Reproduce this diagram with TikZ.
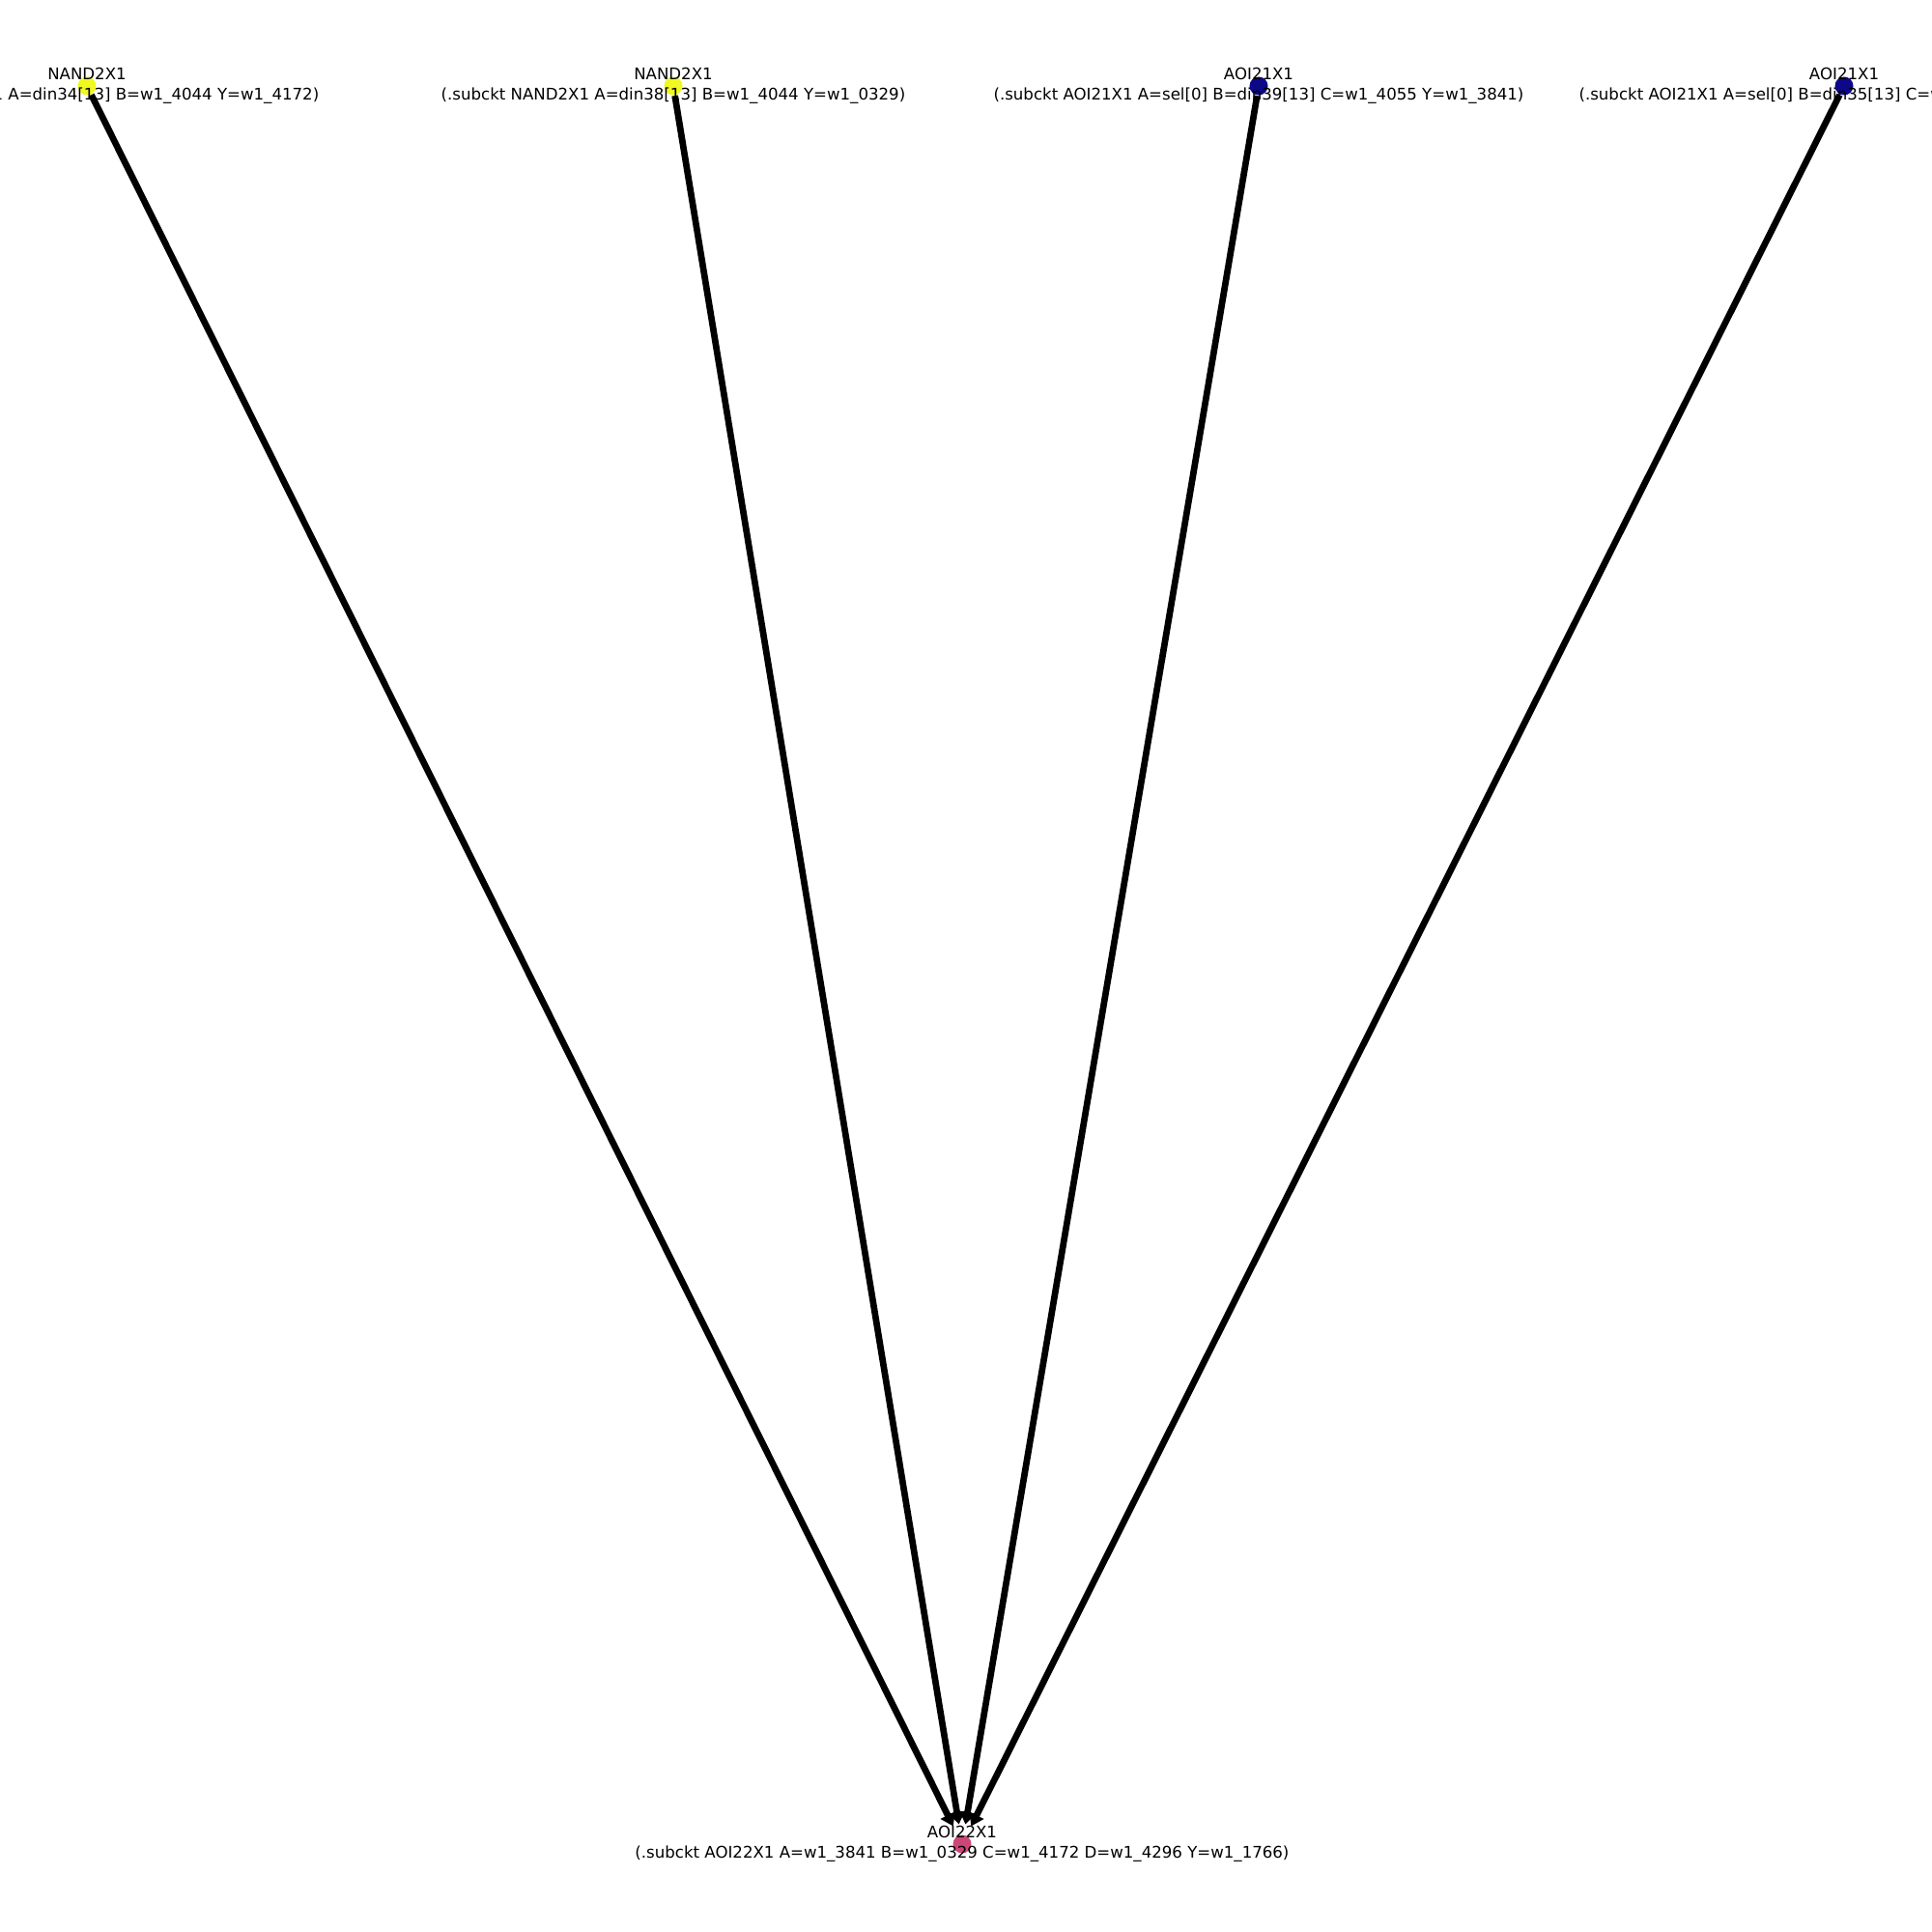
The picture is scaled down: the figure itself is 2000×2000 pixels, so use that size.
\documentclass[tikz,border=0pt]{standalone}
\usepackage{fontspec}
\setmainfont{DejaVu Sans}
\usetikzlibrary{arrows.meta}
\definecolor{pyellow}{HTML}{F0F921}
\definecolor{pblue}{HTML}{0D0887}
\definecolor{ppink}{HTML}{CC4778}
\tikzset{
  gate/.style={circle, inner sep=0pt, minimum size=5.4pt, draw=none},
  lbl/.style={align=center, inner sep=0pt, font=\fontsize{4.72}{6.1}\selectfont, text=black},
  wire/.style={line width=1.9pt, black, -{Triangle[length=3.6pt, width=4.6pt]}, shorten >=3pt}
}
\begin{document}
\begin{tikzpicture}[x=0.01cm, y=-0.01cm]
\useasboundingbox (0,0) rectangle (2000,2000);
\coordinate (pn1) at (90,89);
\coordinate (pn2) at (697,89);
\coordinate (pn3) at (1303,89);
\coordinate (pn4) at (1909,89);
\coordinate (pb) at (996,1909);
% node shapes (invisible first for clipping of edges)
\node[gate] (n1) at (pn1) {};
\node[gate] (n2) at (pn2) {};
\node[gate] (n3) at (pn3) {};
\node[gate] (n4) at (pn4) {};
\node[gate] (b) at (pb) {};
% edges
\draw[wire] (n1) -- (b);
\draw[wire] (n2) -- (b);
\draw[wire] (n3) -- (b);
\draw[wire] (n4) -- (b);
% coloured discs
\fill[pyellow] (pn1) circle[radius=9.5];
\fill[pyellow] (pn2) circle[radius=9.5];
\fill[pblue] (pn3) circle[radius=9.5];
\fill[pblue] (pn4) circle[radius=9.5];
\fill[ppink] (pb) circle[radius=9.5];
% labels
\node[lbl] (l1) at (pn1) {NAND2X1\\(.subckt NAND2X1 A=din34[13] B=w1\_4044 Y=w1\_4172)};
\node[lbl] (l2) at (pn2) {NAND2X1\\(.subckt NAND2X1 A=din38[13] B=w1\_4044 Y=w1\_0329)};
\node[lbl] (l3) at (pn3) {AOI21X1\\(.subckt AOI21X1 A=sel[0] B=din39[13] C=w1\_4055 Y=w1\_3841)};
\node[lbl] (l4) at (pn4) {AOI21X1\\(.subckt AOI21X1 A=sel[0] B=din35[13] C=w1\_4055 Y=w1\_4296)};
\node[lbl] (lb) at (pb) {AOI22X1\\(.subckt AOI22X1 A=w1\_3841 B=w1\_0329 C=w1\_4172 D=w1\_4296 Y=w1\_1766)};
\end{tikzpicture}
\end{document}
